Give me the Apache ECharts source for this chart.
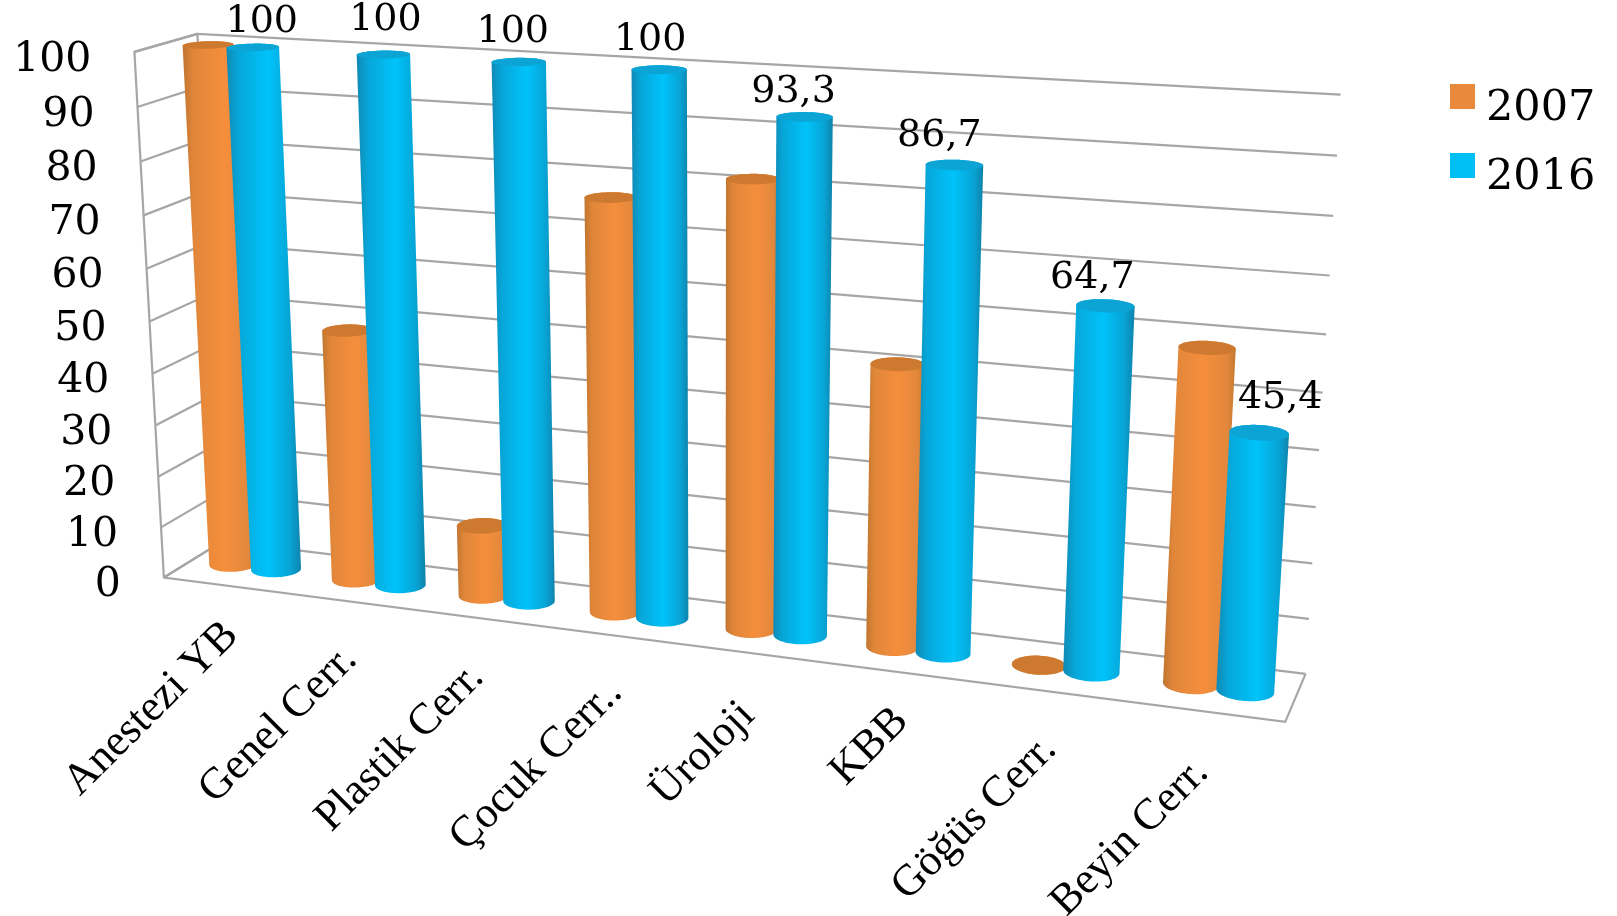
<!DOCTYPE html>
<html>
<head>
<meta charset="utf-8">
<title>2007 / 2016</title>
<style>html,body{margin:0;padding:0;background:#fff}#chart{width:1617px;height:916px}</style>
<script src="https://cdn.jsdelivr.net/npm/echarts@6/dist/echarts.min.js"></script>
</head>
<body>
<div id="chart"></div>
<script>
const categories = ['Anestezi YB', 'Genel Cerr.', 'Plastik Cerr.', 'Çocuk Cerr..', 'Üroloji', 'KBB', 'Göğüs Cerr.', 'Beyin Cerr.'];
const values2007 = [100, 48.5, 13.6, 77, 82, 51.5, 0, 59];
const values2016 = [100, 100, 100, 100, 93.3, 86.7, 64.7, 45.4];
const valueTicks = [0, 10, 20, 30, 40, 50, 60, 70, 80, 90, 100];

// Box corners on screen: [u, v, w] in the unit box -> [x, y] in pixels.
// u runs along the categories, v up the value axis, w from front to back.
const boxAnchors = [
  [0, 0, 0, 164, 577], [1, 0, 0, 1285, 723], [0, 1, 0, 133, 52], [0, 0, 1, 222, 542],
  [1, 0, 1, 1307, 673], [0, 1, 1, 198, 34], [1, 1, 1, 1342, 95],
  [0, 0.5, 0, 151, 321], [1, 0.5, 1, 1320, 392]
];
// Label placement relative to the mark each label belongs to.
const categoryLabelShift = [[22, 59], [15, 67], [12, 68], [16, 66], [9, 71], [18, 58], [16, 67], [12, 70]];
const valueLabelShift = [[9, -25], [2, -34], [-6, -30], [-9, -29], [-11, -25], [-15, -29], [-13, -28], [21, -35]];

const GRID_COLOR = '#a6a6a6';
const TICK_FONT = '41px "DejaVu Serif"';
const VALUE_FONT = '38px "DejaVu Serif"';
const CATEGORY_FONT = '44px "Liberation Serif"';
const BAR_RADIUS_W = 0.2;
const BAR_DEPTH = 0.5;

// Least-squares fit of the 3x4 projective camera from the box anchors.
function fitCamera(anchors) {
  const n = 11, A = [], b = [];
  anchors.forEach(([u, v, w, px, py]) => {
    const x = px / 1000, y = py / 1000;
    A.push([u, v, w, 1, 0, 0, 0, 0, -x * u, -x * v, -x * w]); b.push(x);
    A.push([0, 0, 0, 0, u, v, w, 1, -y * u, -y * v, -y * w]); b.push(y);
  });
  const N = [];
  for (let r = 0; r < n; r++) {
    N.push(new Array(n + 1).fill(0));
    for (let c = 0; c < n; c++) A.forEach(row => { N[r][c] += row[r] * row[c]; });
    A.forEach((row, k) => { N[r][n] += row[r] * b[k]; });
  }
  for (let c = 0; c < n; c++) {
    let p = c;
    for (let r = c + 1; r < n; r++) if (Math.abs(N[r][c]) > Math.abs(N[p][c])) p = r;
    [N[c], N[p]] = [N[p], N[c]];
    for (let r = 0; r < n; r++) {
      if (r === c) continue;
      const f = N[r][c] / N[c][c];
      for (let k = c; k <= n; k++) N[r][k] -= f * N[c][k];
    }
  }
  return N.map((row, i) => row[n] / row[i]);
}
const cam = fitCamera(boxAnchors);
function project(u, v, w) {
  const d = cam[8] * u + cam[9] * v + cam[10] * w + 1;
  return [
    (cam[0] * u + cam[1] * v + cam[2] * w + cam[3]) / d * 1000,
    (cam[4] * u + cam[5] * v + cam[6] * w + cam[7]) / d * 1000
  ];
}

// The hidden cartesian grid supplies the scales; its pixels are normalised to box coordinates.
function toBox(params, pt) {
  const g = params.coordSys;
  return [(pt[0] - g.x) / g.width, (g.y + g.height - pt[1]) / g.height];
}

function hull(points) {
  const pts = points.slice().sort((a, b) => a[0] - b[0] || a[1] - b[1]);
  const cross = (o, a, b) => (a[0] - o[0]) * (b[1] - o[1]) - (a[1] - o[1]) * (b[0] - o[0]);
  const half = list => {
    const out = [];
    list.forEach(p => {
      while (out.length > 1 && cross(out[out.length - 2], out[out.length - 1], p) <= 0) out.pop();
      out.push(p);
    });
    out.pop();
    return out;
  };
  return half(pts).concat(half(pts.reverse()));
}

function ring(uc, v, radiusU) {
  const out = [];
  for (let k = 0; k < 64; k++) {
    const t = k / 64 * Math.PI * 2;
    out.push(project(uc + radiusU * Math.cos(t), v, BAR_DEPTH + BAR_RADIUS_W * Math.sin(t)));
  }
  return out;
}

// Shaded cylinder for one value: body hull plus a darker cap.
// bandShift is the distance from the band centre, in bands.
function cylinderRenderer(bandShift, radiusU, stops, capColor) {
  return function (params, api) {
    const i = api.value(0);
    const band = api.size([1, 0])[0];
    const base = api.coord([i, 0]);
    const top = api.coord([i, api.value(1)]);
    const u = toBox(params, [base[0] + bandShift * band, base[1]])[0];
    const v = toBox(params, top)[1];
    const cap = ring(u, v, radiusU);
    return {
      type: 'group',
      children: [
        {
          type: 'polygon',
          shape: { points: hull(ring(u, 0, radiusU).concat(cap)) },
          style: { fill: { type: 'linear', x: 0, y: 0, x2: 1, y2: 0, colorStops: stops } }
        },
        { type: 'polygon', shape: { points: cap }, style: { fill: capColor } }
      ]
    };
  };
}

function line(points) {
  return { type: 'polyline', shape: { points }, style: { stroke: GRID_COLOR, lineWidth: 2.2, fill: null } };
}

const BLUE_SHIFT = 0.18;
const orangeStops = [
  { offset: 0, color: '#c0752f' }, { offset: 0.14, color: '#e0863a' },
  { offset: 0.55, color: '#f58e3c' }, { offset: 0.88, color: '#e2883c' }, { offset: 1, color: '#c4782f' }
];
const blueStops = [
  { offset: 0, color: '#1189b4' }, { offset: 0.16, color: '#07a6d8' },
  { offset: 0.56, color: '#00c3fa' }, { offset: 0.86, color: '#08a3d4' }, { offset: 1, color: '#0f83ab' }
];

const option = {
  animation: false,
  backgroundColor: '#ffffff',
  grid: { left: 125, top: 33, width: 1217, height: 690, containLabel: false },
  xAxis: { type: 'category', data: categories, show: false },
  yAxis: { type: 'value', min: 0, max: 100, interval: 10, show: false },
  legend: {
    data: ['2007', '2016'],
    orient: 'vertical',
    left: 1445,
    top: 58,
    icon: 'rect',
    itemWidth: 25,
    itemHeight: 25,
    itemGap: 2,
    selectedMode: false,
    // The blank first line sets the year below its swatch's midline.
    formatter: '\n{name}',
    textStyle: { fontFamily: 'DejaVu Serif', fontSize: 43, color: '#000', lineHeight: 24, padding: [0, 0, 0, 6] }
  },
  series: [
    {
      // Box outline: side wall and floor edges.
      name: 'frame', type: 'custom', z: 1, silent: true, clip: false,
      data: [[0, 0]], encode: { x: 0, y: 1 },
      renderItem() {
        return {
          type: 'group',
          children: [
            line([project(0, 1, 1), project(0, 1, 0), project(0, 0, 0), project(1, 0, 0), project(1, 0, 1)]),
            line([project(0, 0, 0), project(0, 0, 1)]),
            line([project(0, 0, 1), project(0, 1, 1)])
          ]
        };
      }
    },
    {
      // Value gridlines on both walls, with their tick labels.
      name: 'ticks', type: 'custom', z: 2, silent: true, clip: false,
      data: valueTicks.map(t => [0, t]), encode: { x: 0, y: 1 },
      renderItem(params, api) {
        const tick = api.value(1);
        const v = toBox(params, api.coord([0, tick]))[1];
        const edge = project(0, v, 0);
        return {
          type: 'group',
          children: [
            line([project(0, v, 0), project(0, v, 1), project(1, v, 1)]),
            {
              type: 'text',
              style: {
                text: String(tick), x: edge[0] - 43, y: edge[1] + 8,
                align: 'right', verticalAlign: 'middle', font: TICK_FONT, fill: '#000'
              }
            }
          ]
        };
      }
    },
    {
      name: '2007', type: 'custom', z: 3, clip: false, silent: true,
      itemStyle: { color: '#e8893c' },
      data: values2007.map((v, i) => [i, v]), encode: { x: 0, y: 1 },
      renderItem: cylinderRenderer(-0.17, 0.022, orangeStops, '#cd7a30')
    },
    {
      name: '2016', type: 'custom', z: 4, clip: false, silent: true,
      itemStyle: { color: '#00bff5' },
      data: values2016.map((v, i) => [i, v]), encode: { x: 0, y: 1 },
      renderItem: cylinderRenderer(BLUE_SHIFT, 0.0228, blueStops, '#0ba4d4')
    },
    {
      // Figures above the 2016 cylinders.
      name: 'values', type: 'custom', z: 5, clip: false, silent: true,
      data: values2016.map((v, i) => [i, v]), encode: { x: 0, y: 1 },
      renderItem(params, api) {
        const i = api.value(0), val = api.value(1);
        const band = api.size([1, 0])[0];
        const base = api.coord([i, 0]);
        const u = toBox(params, [base[0] + BLUE_SHIFT * band, base[1]])[0];
        const v = toBox(params, api.coord([i, val]))[1];
        const p = project(u, v, BAR_DEPTH);
        return {
          type: 'text',
          style: {
            text: String(val).replace('.', ','),
            x: p[0] + valueLabelShift[i][0], y: p[1] + valueLabelShift[i][1],
            align: 'center', verticalAlign: 'middle', font: VALUE_FONT, fill: '#000'
          }
        };
      }
    },
    {
      // Slanted category names under the front edge.
      name: 'categories', type: 'custom', z: 5, clip: false, silent: true,
      data: categories.map((c, i) => [i, 0]), encode: { x: 0, y: 1 },
      renderItem(params, api) {
        const i = api.value(0);
        const u = toBox(params, api.coord([i, 0]))[0];
        const p = project(u, 0, 0);
        return {
          type: 'text',
          x: p[0] + categoryLabelShift[i][0],
          y: p[1] + categoryLabelShift[i][1],
          rotation: 45 * Math.PI / 180,
          style: {
            text: categories[i], x: 0, y: 0,
            align: 'right', verticalAlign: 'bottom', font: CATEGORY_FONT, fill: '#000'
          }
        };
      }
    }
  ]
};

echarts.init(document.getElementById('chart'), null, { renderer: 'canvas' }).setOption(option);
</script>
</body>
</html>
